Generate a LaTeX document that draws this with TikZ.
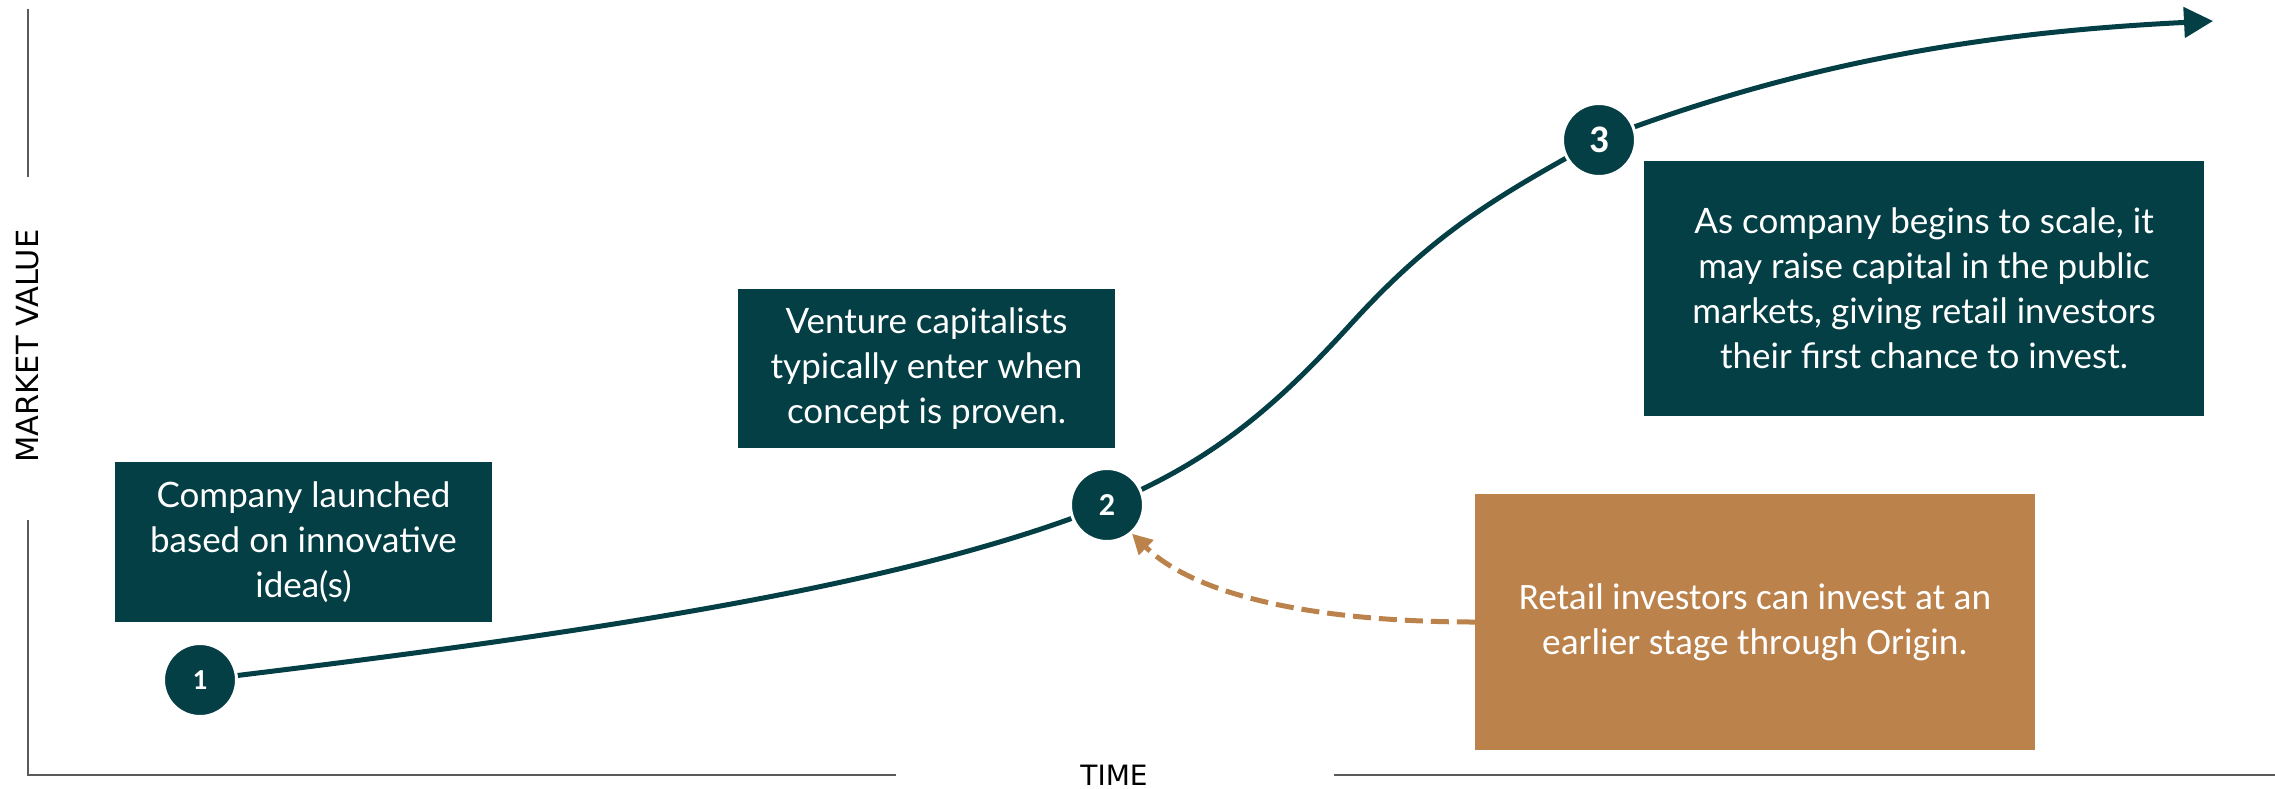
\documentclass[tikz,border=0pt]{standalone}
\usepackage{fontspec}
\setmainfont{Lato}
\newfontfamily\calfont{Carlito}
\newfontfamily\axisfont{DejaVu Sans}
\usetikzlibrary{arrows.meta,backgrounds}

\definecolor{deepteal}{RGB}{3,63,69}
\definecolor{ochre}{RGB}{187,130,76}
\definecolor{axisgray}{RGB}{90,90,90}

\begin{document}
\begin{tikzpicture}[x=1pt,y=-1pt,
  darkbox/.style={fill=deepteal, text=white, inner sep=0pt, align=center,
    font=\fontsize{35}{45}\selectfont},
  ochrebox/.style={fill=ochre, text=white, inner sep=0pt, align=center,
    font=\calfont\fontsize{37.3}{45}\selectfont},
  stepnum/.style={circle, fill=deepteal, draw=white, line width=3pt,
    minimum size=73pt, inner sep=0pt, text=white},
  axisline/.style={draw=axisgray, line width=2.5pt},
  axislabel/.style={inner sep=0pt, font=\axisfont\fontsize{28}{28}\selectfont},
  curve/.style={draw=deepteal, line width=5pt},
  hint/.style={draw=ochre, line width=5pt, dash pattern=on 18pt off 8pt}
]
\useasboundingbox (0,0) rectangle (2275,788);

% axes with gaps for their labels
\coordinate (ytop) at (28,9);
\coordinate (ygapA) at (28,177);
\coordinate (ygapB) at (28,520);
\coordinate (origin) at (28,775);
\coordinate (xgapA) at (896,775);
\coordinate (xgapB) at (1334,775);
\coordinate (xend) at (2275,775);
\draw[axisline] (ytop) -- (ygapA);
\draw[axisline] (ygapB) -- (origin) -- (xgapA);
\draw[axisline] (xgapB) -- (xend);
\node[axislabel, rotate=90, font=\axisfont\fontsize{30.5}{30.5}\selectfont] (ylab) at (28,346) {MARKET VALUE};
\node[axislabel] (xlab) at (1114,775) {TIME};

% stage descriptions
\node[darkbox, minimum width=377pt, minimum height=160pt] (b1) at (303.5,542)
  {Company launched\\based on innovative\\idea(s)};
\node[darkbox, minimum width=377pt, minimum height=159pt] (b2) at (926.5,368.5)
  {Venture capitalists\\typically enter when\\concept is proven.};
\node[darkbox, minimum width=560pt, minimum height=255pt] (b3) at (1924,288.5)
  {As company begins to scale, it\\may raise capital in the public\\markets, giving retail investors\\their first chance to invest.};
\node[ochrebox, minimum width=560pt, minimum height=256pt] (b4) at (1755,622)
  {Retail investors can invest at an\\earlier stage through Origin.};

% numbered stages
\node[stepnum, font=\calfont\bfseries\fontsize{29}{29}\selectfont] (c1) at (200,680) {1};
\node[stepnum, font=\calfont\bfseries\fontsize{32}{32}\selectfont] (c2) at (1107,505) {2};
\node[stepnum, font=\calfont\bfseries\fontsize{39}{39}\selectfont] (c3) at (1599,140) {3};

\coordinate (infl) at (1350,325);
\coordinate (tip) at (2213,21);

% growth curve behind the stage markers
\begin{scope}[on background layer]
\draw[curve, -{Triangle[length=29pt,width=30pt]}]
  (c1.center) .. controls (600,632) and (907,585) .. (c2.center)
  .. controls (1207,463) and (1270,413) .. (infl)
  .. controls (1430,237) and (1489,200) .. (c3.center)
  .. controls (1820,55) and (2013,31) .. (tip);
\end{scope}

% earlier entry point
\draw[hint, -{Triangle[length=20pt,width=20pt]}]
  (b4.west) .. controls (1330,622) and (1200,600) .. (c2.-49);
\end{tikzpicture}
\end{document}
